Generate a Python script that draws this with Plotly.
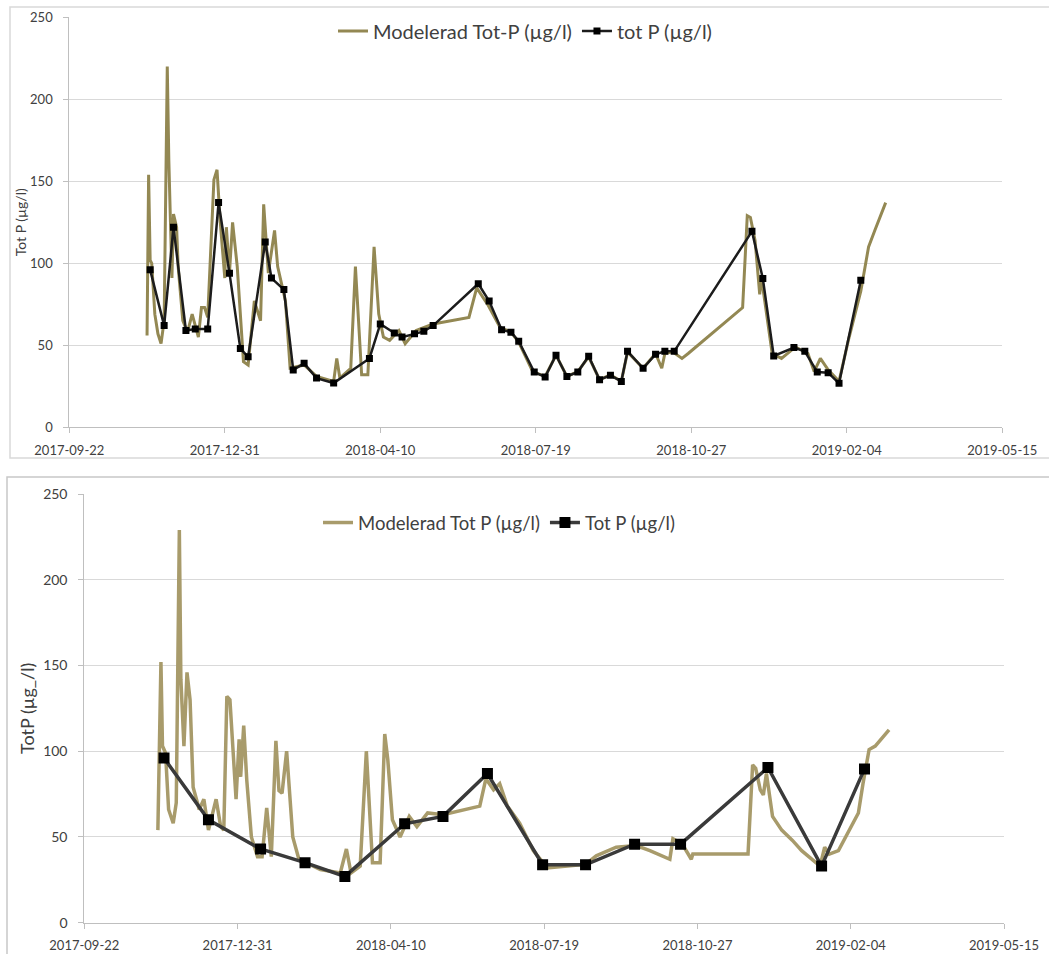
import plotly.graph_objects as go

# ---- Upper panel: weekly samples and modelled total phosphorus ----
obs_top_dates = [
    "2017-11-13", "2017-11-22", "2017-11-28", "2017-12-06", "2017-12-12", "2017-12-20",
    "2017-12-27", "2018-01-03", "2018-01-10", "2018-01-15", "2018-01-26", "2018-01-30",
    "2018-02-07", "2018-02-13", "2018-02-20", "2018-02-28", "2018-03-11", "2018-04-03",
    "2018-04-10", "2018-04-19", "2018-04-24", "2018-05-02", "2018-05-08", "2018-05-14",
    "2018-06-12", "2018-06-19", "2018-06-27", "2018-07-03", "2018-07-08", "2018-07-18",
    "2018-07-25", "2018-08-01", "2018-08-08", "2018-08-15", "2018-08-22", "2018-08-29",
    "2018-09-05", "2018-09-12", "2018-09-16", "2018-09-26", "2018-10-04", "2018-10-10",
    "2018-10-16", "2018-12-05", "2018-12-12", "2018-12-19", "2019-01-01", "2019-01-08",
    "2019-01-16", "2019-01-23", "2019-01-30", "2019-02-13",
]
obs_top_vals = [
    96, 62, 122, 59, 60, 60,
    137, 94, 48, 43, 113, 91,
    84, 35, 39, 30, 27, 42,
    63, 57.5, 55, 57, 58.5, 62,
    87.5, 77, 59.5, 58, 52.5, 33.7,
    30.7, 44, 31, 33.7, 43.3, 29,
    31.7, 28, 46.3, 36, 44.5, 46.3,
    46.3, 119.5, 90.7, 43.5, 48.6, 46.3,
    33.7, 33.3, 26.8, 89.6,
]

model_top_dates = [
    "2017-11-11", "2017-11-12", "2017-11-13", "2017-11-14", "2017-11-16", "2017-11-18",
    "2017-11-20", "2017-11-22", "2017-11-24", "2017-11-25", "2017-11-27", "2017-11-28",
    "2017-11-30", "2017-12-01", "2017-12-04", "2017-12-07", "2017-12-10", "2017-12-14",
    "2017-12-16", "2017-12-18", "2017-12-20", "2017-12-24", "2017-12-26", "2017-12-28",
    "2017-12-31", "2018-01-01", "2018-01-03", "2018-01-05", "2018-01-08", "2018-01-12",
    "2018-01-15", "2018-01-19", "2018-01-23", "2018-01-25", "2018-01-28", "2018-02-01",
    "2018-02-03", "2018-02-08", "2018-02-11", "2018-02-20", "2018-02-28", "2018-03-11",
    "2018-03-13", "2018-03-15", "2018-03-22", "2018-03-25", "2018-03-29", "2018-04-02",
    "2018-04-06", "2018-04-09", "2018-04-12", "2018-04-16", "2018-04-22", "2018-04-26",
    "2018-05-03", "2018-05-14", "2018-06-06", "2018-06-11", "2018-06-18", "2018-06-26",
    "2018-07-03", "2018-07-08", "2018-07-17", "2018-07-25", "2018-08-01", "2018-08-08",
    "2018-08-15", "2018-08-22", "2018-08-29", "2018-09-05", "2018-09-12", "2018-09-16",
    "2018-09-26", "2018-10-04", "2018-10-08", "2018-10-10", "2018-10-15", "2018-10-21",
    "2018-10-25", "2018-11-29", "2018-12-02", "2018-12-04", "2018-12-07", "2018-12-10",
    "2018-12-11", "2018-12-18", "2018-12-24", "2019-01-02", "2019-01-10", "2019-01-14",
    "2019-01-18", "2019-01-23", "2019-01-30", "2019-02-05", "2019-02-13", "2019-02-18",
    "2019-02-22", "2019-03-01",
]
model_top_vals = [
    56, 154, 102, 100, 69, 57,
    51, 65, 220, 163, 91, 130,
    122, 98, 65, 58, 69, 55,
    73, 73, 67, 151, 157, 126,
    91, 122, 94, 125, 98, 40,
    38, 77, 65, 136, 94, 120,
    98, 77, 36, 38, 31, 28,
    42, 30, 36, 98, 32, 32,
    110, 69, 55, 53, 59, 51,
    59, 63, 67, 85, 75, 61,
    58, 52, 34, 31, 44, 31,
    34, 43, 29, 32, 28, 46,
    36, 45, 36, 45, 46, 42,
    45, 73, 129, 128, 114, 81,
    92, 45, 42, 49, 45, 34,
    42, 35, 28, 53, 83, 110,
    120, 137,
]

# ---- Lower panel: monthly samples and modelled total phosphorus ----
obs_bot_dates = [
    "2017-11-13", "2017-12-12", "2018-01-15", "2018-02-13", "2018-03-11",
    "2018-04-19", "2018-05-14", "2018-06-12", "2018-07-18", "2018-08-15",
    "2018-09-16", "2018-10-16", "2018-12-12", "2019-01-16", "2019-02-13",
]
obs_bot_vals = [96, 60, 43, 35, 27, 57.7, 62, 87, 33.8, 33.8, 45.8, 45.8, 90.5, 33, 89.7]

model_bot_dates = [
    "2017-11-09", "2017-11-11", "2017-11-12", "2017-11-14", "2017-11-16", "2017-11-19",
    "2017-11-21", "2017-11-23", "2017-11-24", "2017-11-26", "2017-11-28", "2017-11-30",
    "2017-12-02", "2017-12-06", "2017-12-09", "2017-12-12", "2017-12-17", "2017-12-20",
    "2017-12-22", "2017-12-24", "2017-12-26", "2017-12-28", "2017-12-30", "2018-01-01",
    "2018-01-02", "2018-01-04", "2018-01-06", "2018-01-09", "2018-01-13", "2018-01-16",
    "2018-01-19", "2018-01-22", "2018-01-25", "2018-01-27", "2018-01-29", "2018-02-01",
    "2018-02-05", "2018-02-09", "2018-02-23", "2018-03-08", "2018-03-12", "2018-03-15",
    "2018-03-21", "2018-03-25", "2018-03-29", "2018-04-03", "2018-04-06", "2018-04-08",
    "2018-04-11", "2018-04-16", "2018-04-22", "2018-04-27", "2018-05-04", "2018-05-14",
    "2018-06-07", "2018-06-11", "2018-06-16", "2018-06-20", "2018-06-25", "2018-07-03",
    "2018-07-12", "2018-07-21", "2018-08-05", "2018-08-15", "2018-08-22", "2018-09-04",
    "2018-09-17", "2018-09-26", "2018-10-09", "2018-10-11", "2018-10-17", "2018-10-23",
    "2018-10-24", "2018-11-29", "2018-12-02", "2018-12-04", "2018-12-07", "2018-12-09",
    "2018-12-11", "2018-12-15", "2018-12-21", "2018-12-28", "2019-01-03", "2019-01-12",
    "2019-01-15", "2019-01-18", "2019-01-21", "2019-01-27", "2019-02-02", "2019-02-09",
    "2019-02-12", "2019-02-16", "2019-02-20", "2019-02-26", "2019-03-01",
]
model_bot_vals = [
    54, 152, 103, 99, 66, 58,
    70, 229, 142, 103, 146, 130,
    79, 66, 72, 54, 72, 56,
    54, 132, 130, 99, 72, 107,
    85, 115, 83, 50, 38.5, 38.5,
    67, 38.5, 106, 77, 75.5, 100,
    50, 37, 31, 29, 43, 29,
    33, 100, 35, 35, 110, 95,
    60, 50, 62, 56, 64, 63,
    68, 84, 77.5, 81, 68, 58,
    42, 32, 33, 34, 39, 44,
    45, 42, 37, 49, 46, 37,
    40, 40, 92, 90, 77.5, 74.5,
    87, 62, 54, 48, 42, 35,
    33, 44, 40, 42, 52, 64,
    81, 101, 103, 109, 112.5,
]

x_tick_dates = ["2017-09-22", "2017-12-31", "2018-04-10", "2018-07-19",
                "2018-10-27", "2019-02-04", "2019-05-15"]
y_tick_vals = [0, 50, 100, 150, 200, 250]

W, H = 1049, 954
FONT = "Lato, 'Open Sans', sans-serif"
TXT = "#404040"


def px_x(p):
    return p / W


def px_y(p):
    return 1 - p / H


fig = go.Figure()

fig.add_trace(go.Scatter(
    x=model_top_dates, y=model_top_vals, mode="lines",
    name="Modelerad Tot-P (µg/l)", line=dict(color="#938853", width=3),
    xaxis="x", yaxis="y", legend="legend",
))
fig.add_trace(go.Scatter(
    x=obs_top_dates, y=obs_top_vals, mode="lines+markers",
    name="tot P (µg/l)", line=dict(color="#1c1c1c", width=2.5),
    marker=dict(symbol="square", size=7, color="#000000"),
    xaxis="x", yaxis="y", legend="legend",
))
fig.add_trace(go.Scatter(
    x=model_bot_dates, y=model_bot_vals, mode="lines",
    name="Modelerad Tot P (µg/l)", line=dict(color="#a89b6b", width=3.5),
    xaxis="x2", yaxis="y2", legend="legend2",
))
fig.add_trace(go.Scatter(
    x=obs_bot_dates, y=obs_bot_vals, mode="lines+markers",
    name="Tot P (µg/l)", line=dict(color="#3a3a3a", width=3.5),
    marker=dict(symbol="square", size=11, color="#000000"),
    xaxis="x2", yaxis="y2", legend="legend2",
))

x_common = dict(
    type="date", range=[x_tick_dates[0], x_tick_dates[-1]],
    tickmode="array", tickvals=x_tick_dates, tickformat="%Y-%m-%d",
    showgrid=False, showline=True, linecolor="#bfbfbf", linewidth=1,
    ticks="outside", ticklen=5, tickcolor="#bfbfbf",
    tickfont=dict(family=FONT, size=13, color=TXT), zeroline=False,
    automargin=False, fixedrange=True,
)
y_common = dict(
    range=[0, 250], tickmode="array", tickvals=y_tick_vals,
    showgrid=True, gridcolor="#d9d9d9", gridwidth=1,
    showline=True, linecolor="#bfbfbf", linewidth=1,
    ticks="outside", ticklen=5, tickcolor="#bfbfbf", zeroline=False,
    automargin=False, fixedrange=True,
)

fig.update_layout(
    template="none",
    width=W, height=H,
    margin=dict(l=0, r=0, t=0, b=0, pad=0),
    paper_bgcolor="white", plot_bgcolor="white",
    font=dict(family=FONT, color=TXT),
    xaxis=dict(x_common, domain=[px_x(69.3), px_x(1002.3)], anchor="y",
               ticklabelstandoff=6),
    yaxis=dict(y_common, domain=[px_y(427.3), px_y(17.3)], anchor="x",
               tickfont=dict(family=FONT, size=13, color=TXT),
               ticklabelstandoff=8,
               title=dict(text="Tot P (µg/l)", standoff=0,
                          font=dict(family=FONT, size=14, color=TXT))),
    xaxis2=dict(x_common, domain=[px_x(84.3), px_x(1004)], anchor="y2",
                ticklabelstandoff=6),
    yaxis2=dict(y_common, domain=[px_y(922.7), px_y(494)], anchor="x2",
                tickfont=dict(family=FONT, size=14, color=TXT),
                ticklabelstandoff=8,
                title=dict(text="TotP (µg_/l)", standoff=3,
                           font=dict(family=FONT, size=18, color=TXT))),
    legend=dict(orientation="h", x=px_x(333), y=px_y(31), xanchor="left",
                yanchor="middle", bgcolor="rgba(0,0,0,0)", borderwidth=0,
                font=dict(family=FONT, size=20, color=TXT)),
    legend2=dict(orientation="h", x=px_x(318), y=px_y(523), xanchor="left",
                 yanchor="middle", bgcolor="rgba(0,0,0,0)", borderwidth=0,
                 font=dict(family=FONT, size=18.5, color=TXT)),
    shapes=[
        dict(type="rect", xref="paper", yref="paper", layer="below",
             x0=px_x(10), x1=px_x(1060), y0=px_y(458), y1=px_y(7),
             line=dict(color="#d9d9d9", width=1.5), fillcolor="rgba(0,0,0,0)"),
        dict(type="rect", xref="paper", yref="paper", layer="below",
             x0=px_x(7), x1=px_x(1060), y0=px_y(970), y1=px_y(477),
             line=dict(color="#c8c8c8", width=1.5), fillcolor="rgba(0,0,0,0)"),
    ],
    showlegend=True,
)

fig.write_html("out.html")
